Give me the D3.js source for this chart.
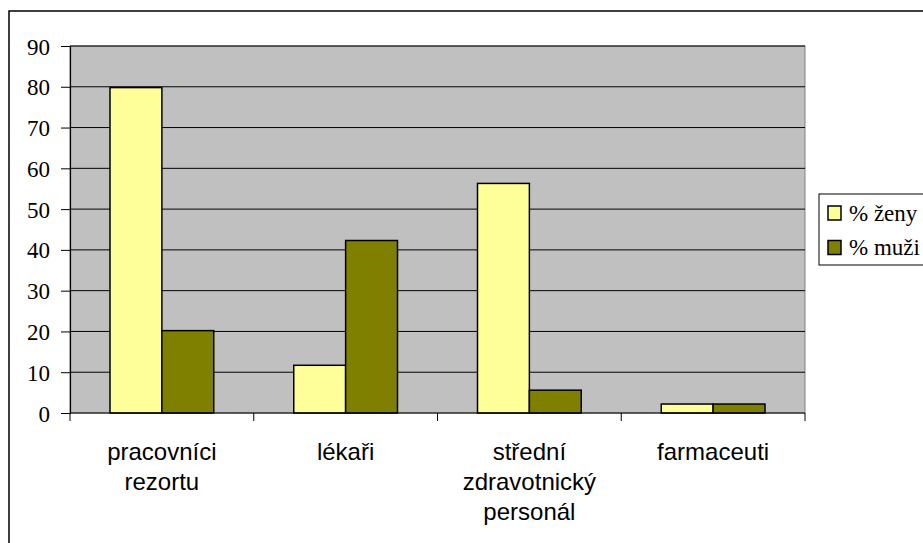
<!DOCTYPE html>
<html><head><meta charset="utf-8">
<script src="https://cdn.jsdelivr.net/npm/d3@7"></script>
<style>html,body{margin:0;padding:0;background:#fff;overflow:hidden}</style>
</head><body>
<svg id="chart" width="923" height="543"></svg>
<script>
const categories = [["pracovníci","rezortu"],["lékaři"],["střední","zdravotnický","personál"],["farmaceuti"]];
const seriesNames = ["% ženy","% muži"];
const zeny = [79.8, 11.7, 56.3, 2.2];
const muzi = [20.2, 42.3, 5.6, 2.2];
const yTicks = [0,10,20,30,40,50,60,70,80,90];
const colors = ["#FFFF99","#808000"];

const SERIF = "Liberation Serif";
const SANS = "Liberation Sans";

const svg = d3.select("#chart");
const m = {l:70, t:46, r:805, b:413};

svg.append("rect").attr("x",9).attr("y",11).attr("width",1200).attr("height",1200)
  .attr("fill","#fff").attr("stroke","#000").attr("stroke-width",1.5);

const x0 = d3.scaleBand().domain(d3.range(categories.length)).range([m.l,m.r]).paddingInner(0).paddingOuter(0);
const x1 = d3.scaleBand().domain([0,1]).range([40, x0.bandwidth()-40]);
const y = d3.scaleLinear().domain([0,90]).range([m.b,m.t]);

svg.append("rect").attr("x",m.l).attr("y",m.t).attr("width",m.r-m.l).attr("height",m.b-m.t)
  .attr("fill","#C0C0C0").attr("stroke","#808080").attr("stroke-width",1);

// gridlines
svg.append("g").selectAll("line").data(yTicks.filter(d=>d>0)).join("line")
  .attr("x1",m.l).attr("x2",m.r).attr("y1",d=>y(d)).attr("y2",d=>y(d))
  .attr("stroke","#000").attr("stroke-width",1);

// bars
const data = categories.map((c,i)=>[zeny[i],muzi[i]]);
const g = svg.append("g");
data.forEach((vals,i)=>{
  vals.forEach((v,j)=>{
    g.append("rect").attr("x",x0(i)+x1(j)).attr("width",x1.bandwidth())
      .attr("y",y(v)).attr("height",y(0)-y(v))
      .attr("fill",colors[j]).attr("stroke","#000").attr("stroke-width",1.5);
  });
});

// y axis
const yAxis = svg.append("g").attr("transform",`translate(${m.l},0)`)
  .call(d3.axisLeft(y).tickValues(yTicks).tickSize(9).tickSizeOuter(0).tickPadding(11));
yAxis.attr("font-family",SERIF).attr("font-size",23);
yAxis.select(".domain").attr("stroke","#000").attr("stroke-width",1.2);
yAxis.selectAll(".tick line").attr("stroke","#000");
yAxis.selectAll("text").attr("font-family",SERIF).attr("font-size",23).attr("fill","#000").attr("dy","0.35em");

// x axis
const xAxisG = svg.append("g").attr("transform",`translate(0,${m.b})`);
xAxisG.append("line").attr("x1",m.l).attr("x2",m.r).attr("y1",0).attr("y2",0).attr("stroke","#000").attr("stroke-width",1.2);
const bounds = d3.range(categories.length+1).map(i=> i<categories.length ? x0(i) : x0(i-1)+x0.bandwidth());
xAxisG.selectAll("line.tk").data(bounds).join("line").attr("class","tk")
  .attr("x1",d=>d).attr("x2",d=>d).attr("y1",0).attr("y2",8).attr("stroke","#000").attr("stroke-width",1);
categories.forEach((lines,i)=>{
  const t = svg.append("text").attr("text-anchor","middle").attr("font-family",SANS)
    .attr("font-size",24).attr("fill","#000");
  lines.forEach((ln,k)=>{
    t.append("tspan").attr("x",x0(i)+x0.bandwidth()/2).attr("y",460+k*30).text(ln);
  });
});

// legend
const lg = svg.append("g");
lg.append("rect").attr("x",819).attr("y",194).attr("width",200).attr("height",71)
  .attr("fill","#fff").attr("stroke","#000").attr("stroke-width",1);
seriesNames.forEach((s,i)=>{
  const yy = 206 + i*34.5;
  lg.append("rect").attr("x",828).attr("y",yy).attr("width",13).attr("height",14)
    .attr("fill",colors[i]).attr("stroke","#000").attr("stroke-width",1.5);
  lg.append("text").attr("x",849).attr("y",yy+14.5).text(s).attr("font-family",SERIF)
    .attr("font-size",23).attr("fill","#000");
});
</script>
</body></html>
